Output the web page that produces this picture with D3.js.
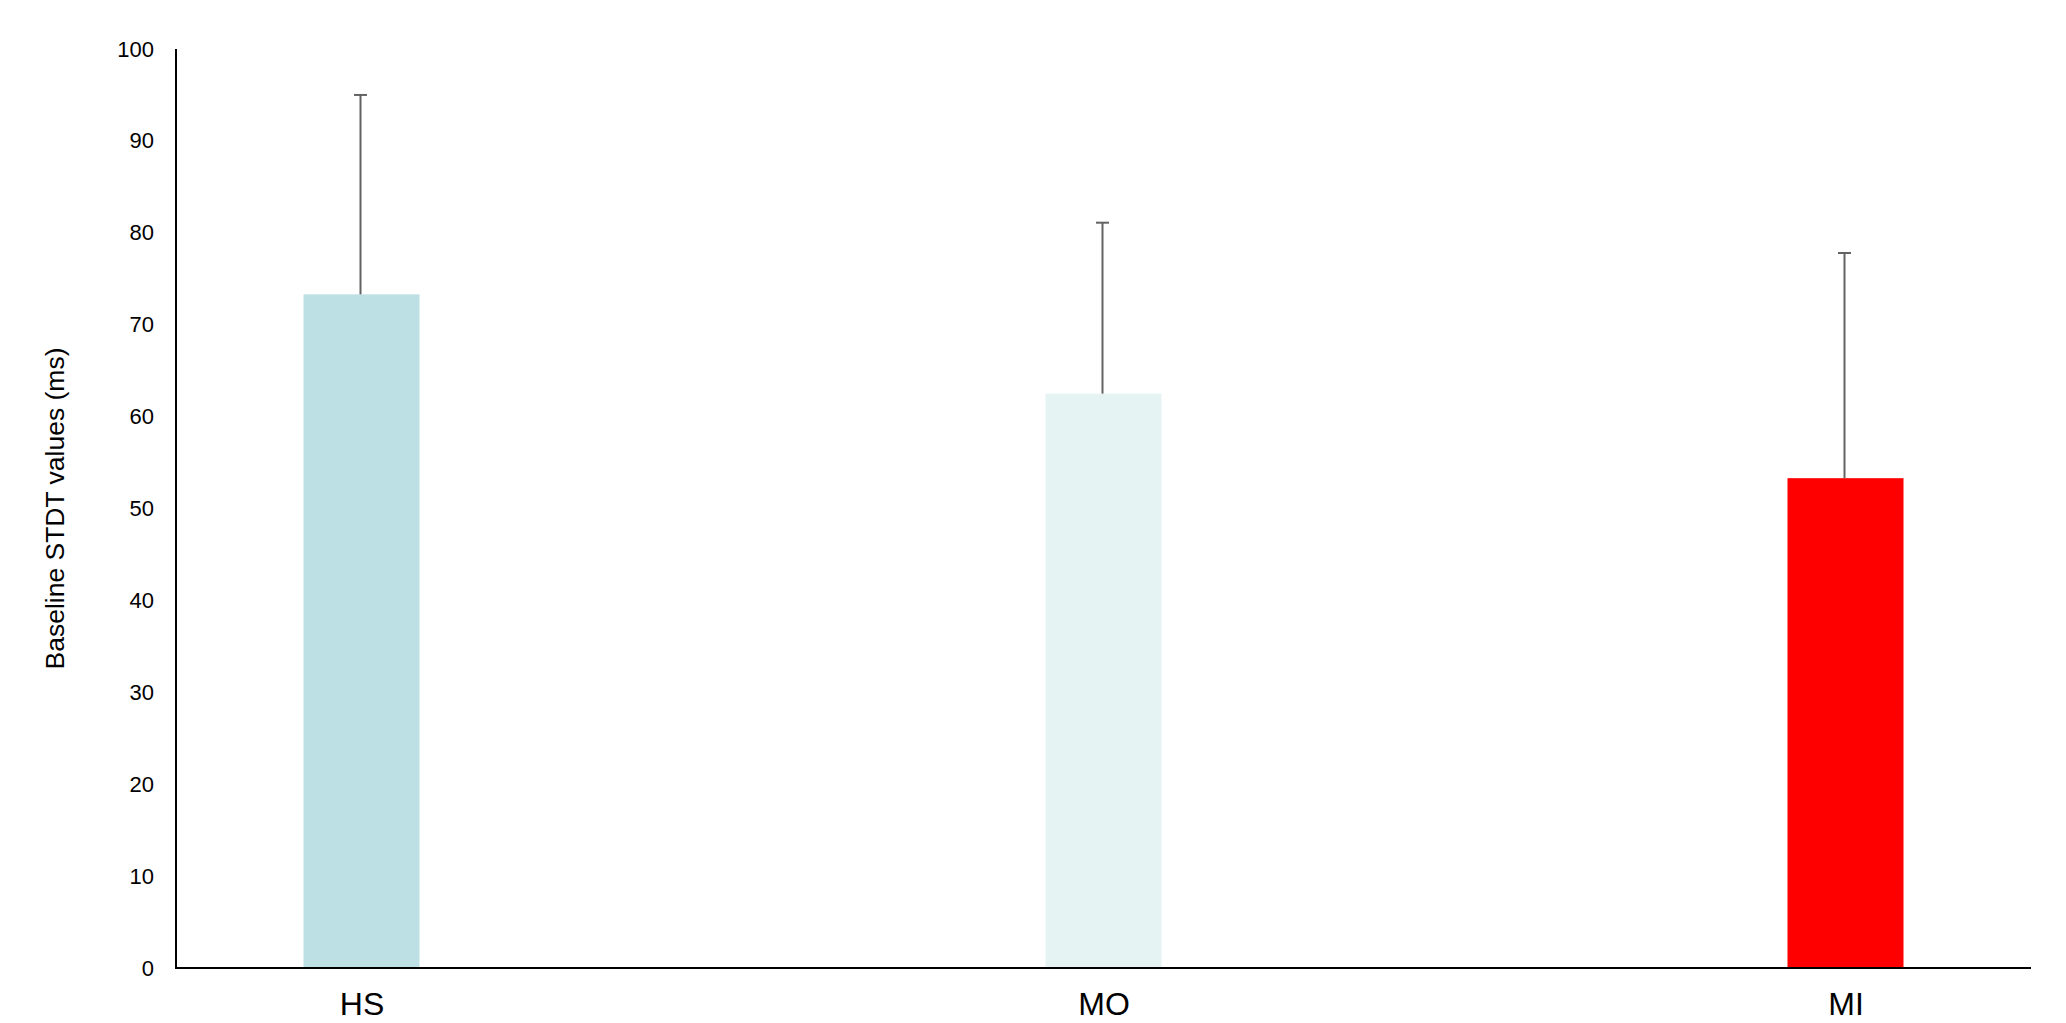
<!DOCTYPE html>
<html>
<head>
<meta charset="utf-8">
<script src="https://cdn.jsdelivr.net/npm/d3@7"></script>
<style>
  html, body { margin: 0; padding: 0; background: #ffffff; }
  svg { display: block; }
  text { font-family: "Liberation Sans", Arial, sans-serif; fill: #000; }
</style>
</head>
<body>
<svg id="chart" width="2066" height="1023"></svg>
<script>
// Groups and their baseline STDT means with the upper error (mean + SD)
const categories = ["HS", "MO", "MI"];
const means = [73.3, 62.5, 53.3];
const upperErrors = [95.0, 81.1, 77.8];
const barColors = ["#bce0e3", "#e6f3f3", "#ff0000"];
const yTicks = [0, 10, 20, 30, 40, 50, 60, 70, 80, 90, 100];
const yLabel = "Baseline STDT values (ms)";

const svg = d3.select("#chart");

const plot = { left: 176, right: 2031, top: 49, bottom: 968 };

const y = d3.scaleLinear().domain([0, 100]).range([plot.bottom, plot.top]);
const x = d3.scalePoint().domain(categories).range([361.5, 1845.5]).padding(0);
const barWidth = 116;
const capWidth = 13;

const data = categories.map((c, i) => ({ c, mean: means[i], up: upperErrors[i], color: barColors[i] }));

// Bars
svg.append("g").selectAll("rect")
  .data(data).join("rect")
  .attr("x", d => x(d.c) - barWidth / 2)
  .attr("y", d => y(d.mean))
  .attr("width", barWidth)
  .attr("height", d => y(0) - y(d.mean))
  .attr("fill", d => d.color);

// Upper error bars
const err = svg.append("g").attr("stroke", "#636363").attr("stroke-width", 2);
err.selectAll("line.stem").data(data).join("line")
  .attr("class", "stem")
  .attr("x1", d => x(d.c) - 1).attr("x2", d => x(d.c) - 1)
  .attr("y1", d => y(d.mean)).attr("y2", d => y(d.up));
err.selectAll("line.cap").data(data).join("line")
  .attr("class", "cap")
  .attr("x1", d => x(d.c) - 1 - capWidth / 2).attr("x2", d => x(d.c) - 1 + capWidth / 2)
  .attr("y1", d => y(d.up)).attr("y2", d => y(d.up));

// Y axis: plain line with labels, no tick marks
const yAxis = d3.axisLeft(y).tickValues(yTicks).tickSize(0).tickPadding(22);
const yg = svg.append("g").attr("transform", `translate(${plot.left},0)`).call(yAxis);
yg.select(".domain").remove();
yg.selectAll("text").attr("font-size", 22).attr("font-family", "Liberation Sans, Arial, sans-serif").attr("fill", "#000");
svg.append("line")
  .attr("x1", plot.left).attr("x2", plot.left)
  .attr("y1", plot.top).attr("y2", plot.bottom)
  .attr("stroke", "#000").attr("stroke-width", 2);

// X axis line and category labels
svg.append("line")
  .attr("x1", plot.left - 1).attr("x2", plot.right)
  .attr("y1", plot.bottom).attr("y2", plot.bottom)
  .attr("stroke", "#000").attr("stroke-width", 2);
const xAxis = d3.axisBottom(x).tickSize(0).tickPadding(24);
const xg = svg.append("g").attr("transform", `translate(0,${plot.bottom})`).call(xAxis);
xg.select(".domain").remove();
xg.selectAll("text").attr("font-size", 32).attr("font-family", "Liberation Sans, Arial, sans-serif").attr("fill", "#000");

// Y axis title
svg.append("text")
  .attr("transform", `translate(64,${(plot.top + plot.bottom) / 2}) rotate(-90)`)
  .attr("text-anchor", "middle")
  .attr("font-size", 26.5)
  .text(yLabel);
</script>
</body>
</html>
